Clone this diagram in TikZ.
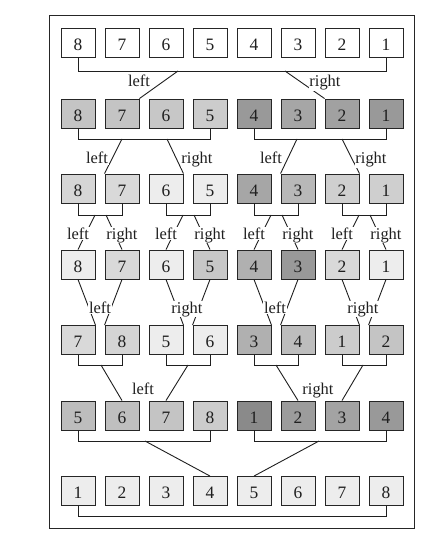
\documentclass[tikz,border=0pt]{standalone}
\usepackage{fontspec}
\setmainfont{Liberation Serif}
\usetikzlibrary{calc}
\tikzset{
  box/.style={draw=black!85, line width=0.9bp, minimum width=34bp, minimum height=29bp,
    inner sep=0pt, text height=15.5bp, text depth=0pt,
    font=\fontsize{17.5}{19}\selectfont, text=black!88},
  lab/.style={fill=white, inner sep=0.8bp, anchor=base, font=\fontsize{16.5}{18}\selectfont, text=black!88},
  con/.style={draw=black!88, line width=0.9bp},
}
\begin{document}
\begin{tikzpicture}[x=1bp,y=-1bp]
\useasboundingbox (0,0) rectangle (441,535);
\draw[line width=1bp, black!85] (49,16) rectangle (414,528);
% rows
\foreach \n/\g [count=\i] in {8/0,7/0,6/0,5/0,4/0,3/0,2/0,1/0}
  \node[box,fill=black!\g] (b1\i) at ({78+44*(\i-1)},43) {\n};
\foreach \n/\g [count=\i] in {8/23,7/23,6/22,5/20,4/40,3/35,2/37,1/40}
  \node[box,fill=black!\g] (b2\i) at ({78+44*(\i-1)},113.5) {\n};
\foreach \n/\g [count=\i] in {8/16,7/15,6/7,5/7,4/35,3/28,2/19,1/19}
  \node[box,fill=black!\g] (b3\i) at ({78+44*(\i-1)},188.5) {\n};
\foreach \n/\g [count=\i] in {8/7,7/15,6/7,5/22,4/31,3/40,2/15,1/7}
  \node[box,fill=black!\g] (b4\i) at ({78+44*(\i-1)},264.5) {\n};
\foreach \n/\g [count=\i] in {7/15,8/17,5/7,6/7,3/31,4/26,1/20,2/23}
  \node[box,fill=black!\g] (b5\i) at ({78+44*(\i-1)},340) {\n};
\foreach \n/\g [count=\i] in {5/26,6/25,7/23,8/20,1/46,2/39,3/36,4/40}
  \node[box,fill=black!\g] (b6\i) at ({78+44*(\i-1)},415.5) {\n};
\foreach \n/\g [count=\i] in {1/7,2/7,3/7,4/7,5/7,6/7,7/7,8/7}
  \node[box,fill=black!\g] (b7\i) at ({78+44*(\i-1)},491) {\n};
% bracket levels
\coordinate (y1) at (0,71);
\coordinate (y2) at (0,139);
\coordinate (y3) at (0,215);
\coordinate (y5) at (0,365);
\coordinate (y6) at (0,441);
\coordinate (y7) at (0,516);
% brackets
\draw[con] (b11.south) -- (b11.south |- y1) -- (b18.south |- y1) -- (b18.south);
\draw[con] (b21.south) -- (b21.south |- y2) -- (b24.south |- y2) -- (b24.south);
\draw[con] (b25.south) -- (b25.south |- y2) -- (b28.south |- y2) -- (b28.south);
\foreach \a/\b in {1/2,3/4,5/6,7/8}{
  \draw[con] (b3\a.south) -- (b3\a.south |- y3) -- (b3\b.south |- y3) -- (b3\b.south);
  \draw[con] (b5\a.south) -- (b5\a.south |- y5) -- (b5\b.south |- y5) -- (b5\b.south);
}
\draw[con] (b61.south) -- (b61.south |- y6) -- (b64.south |- y6) -- (b64.south);
\draw[con] (b65.south) -- (b65.south |- y6) -- (b68.south |- y6) -- (b68.south);
\draw[con] (b71.south) -- (b71.south |- y7) -- (b78.south |- y7) -- (b78.south);
% connector start points on brackets
\coordinate (s1l) at (178,71);
\coordinate (s1r) at (285,71);
\coordinate (s2a) at (122,139);
\coordinate (s2b) at (167,139);
\coordinate (s2c) at (297,139);
\coordinate (s2d) at (342,139);
\foreach \k/\a in {1/78,2/166,3/254,4/342}{
  \coordinate (s3l\k) at ({\a+17},215);
  \coordinate (s3r\k) at ({\a+28},215);
}
\coordinate (s5a) at (101,365);
\coordinate (s5b) at (188,365);
\coordinate (s5c) at (276,365);
\coordinate (s5d) at (363,365);
\coordinate (s6l) at (145,441);
\coordinate (s6r) at (319,441);
% level 1 -> 2
\draw[con] (s1l) -- (b22.north east);
\draw[con] (s1r) -- (b27.north west);
\node[lab] (l1l) at (139,87) {left};
\node[lab] (l1r) at (325,87) {right};
% level 2 -> 3
\draw[con] (s2a) -- (b32.north west);
\draw[con] (s2b) -- (b33.north east);
\draw[con] (s2c) -- (b36.north west);
\draw[con] (s2d) -- (b37.north east);
\node[lab] (l2a) at (97,164) {left};
\node[lab] (l2b) at (197,164) {right};
\node[lab] (l2c) at (271,164) {left};
\node[lab] (l2d) at (371,164) {right};
% level 3 -> 4
\draw[con] (s3l1) -- (b41.north);
\draw[con] (s3r1) -- (b42.north);
\draw[con] (s3l2) -- (b43.north);
\draw[con] (s3r2) -- (b44.north);
\draw[con] (s3l3) -- (b45.north);
\draw[con] (s3r3) -- (b46.north);
\draw[con] (s3l4) -- (b47.north);
\draw[con] (s3r4) -- (b48.north);
\foreach \k/\a in {1/78,2/166,3/254,4/342}{
  \node[lab] (l3l\k) at (\a,239) {left};
  \node[lab] (l3r\k) at ({\a+44},239) {right};
}
% level 4 -> 5
\foreach \a/\b in {1/2,3/4,5/6,7/8}{
  \draw[con] (b4\a.south) -- (b5\a.north east);
  \draw[con] (b4\b.south) -- (b5\b.north west);
}
\node[lab] (l4a) at (100,313) {left};
\node[lab] (l4b) at (187,313) {right};
\node[lab] (l4c) at (275,313) {left};
\node[lab] (l4d) at (363,313) {right};
% level 5 -> 6
\draw[con] (s5a) -- (b62.north);
\draw[con] (s5b) -- (b63.north);
\draw[con] (s5c) -- (b66.north);
\draw[con] (s5d) -- (b67.north);
\node[lab] (l5l) at (143,394) {left};
\node[lab] (l5r) at (318,394) {right};
% level 6 -> 7
\draw[con] (s6l) -- (b74.north);
\draw[con] (s6r) -- (b75.north);
\end{tikzpicture}
\end{document}
